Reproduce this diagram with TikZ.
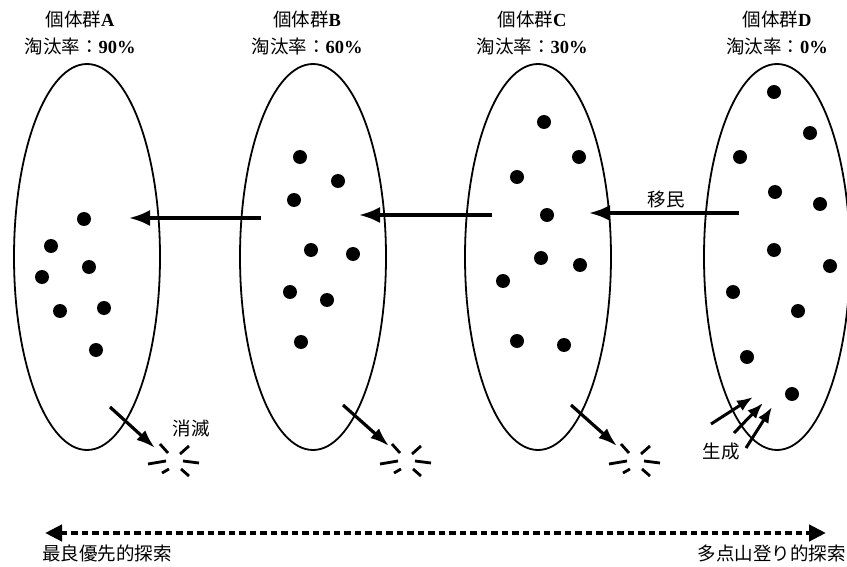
\documentclass[tikz,border=0pt]{standalone}
\usepackage{fontspec}
\setmainfont{Liberation Serif}
\newfontfamily\cjk{Noto Sans CJK JP}
\usetikzlibrary{arrows.meta,shapes.geometric}
\tikzset{
  pop/.style={draw, ellipse, line width=1.8pt, minimum width=146pt, minimum height=386pt, inner sep=0pt},
  dot/.style={circle, fill=black, minimum size=14pt, inner sep=0pt},
  lbl/.style={font=\fontsize{18.5}{22}\selectfont\cjk, inner sep=0pt},
  title/.style={font=\fontsize{18.5}{22}\selectfont, inner sep=0pt},
  migr/.style={line width=3.4pt, -{Latex[length=21pt,width=16pt]}},
  kill/.style={line width=3.2pt, -{Latex[length=19pt,width=13pt]}},
  gen/.style={line width=3pt, -{Latex[length=16pt,width=12pt]}},
  scale line/.style={line width=4.2pt, dash pattern=on 6.5pt off 4pt, {Triangle[length=17pt,width=16pt]}-{Triangle[length=17pt,width=16pt]}},
  burst/.pic={\draw[line width=2.8pt] (-15,-16)--(-7,-7) (5,-6)--(14,-14) (-27,4)--(-9,1) (8,1)--(24,3) (-13,13)--(-6,9) (6,9)--(14,16);}
}
\begin{document}
\begin{tikzpicture}[x=1pt,y=-1pt]
\useasboundingbox (0,0) rectangle (847,567);
\clip (0,0) rectangle (847,567);
% populations
\node[pop] (popA) at (87,257) {};
\node[pop] (popB) at (313,257) {};
\node[pop] (popC) at (538,257) {};
\node[pop] (popD) at (777,257) {};
% titles
\node[title] (tA1) at (80,19) {{\cjk 個体群}\textbf{A}};
\node[title] (tA2) at (80,46) {{\cjk 淘汰率：}\textbf{90\%}};
\node[title] (tB1) at (307,19) {{\cjk 個体群}\textbf{B}};
\node[title] (tB2) at (307,46) {{\cjk 淘汰率：}\textbf{60\%}};
\node[title] (tC1) at (532,19) {{\cjk 個体群}\textbf{C}};
\node[title] (tC2) at (532,46) {{\cjk 淘汰率：}\textbf{30\%}};
\node[title] (tD1) at (777,19) {{\cjk 個体群}\textbf{D}};
\node[title] (tD2) at (777,46) {{\cjk 淘汰率：}\textbf{0\%}};
% dots
\foreach \p [count=\i] in {(84,219),(51,246),(89,267),(42,277),(60,311),(104,308),(96,350)}
  \node[dot] (a\i) at \p {};
\foreach \p [count=\i] in {(300,157),(338,181),(294,200),(311,250),(353,254),(290,292),(327,300),(301,342)}
  \node[dot] (b\i) at \p {};
\foreach \p [count=\i] in {(544,122),(579,157),(517,177),(547,215),(541,258),(580,265),(503,281),(517,341),(564,345)}
  \node[dot] (c\i) at \p {};
\foreach \p [count=\i] in {(774,92),(810,133),(740,157),(775,192),(820,204),(774,250),(830,266),(733,292),(798,311),(747,357),(792,394)}
  \node[dot] (d\i) at \p {};
% migration arrows
\coordinate (mBs) at (261,218); \coordinate (mBe) at (129,218);
\coordinate (mCs) at (492,215); \coordinate (mCe) at (359,215);
\coordinate (mDs) at (739,213); \coordinate (mDe) at (589,213);
\draw[migr] (mBs) -- (mBe);
\draw[migr] (mCs) -- (mCe);
\draw[migr] (mDs) -- (mDe);
\node[lbl] (imin) at (666,199) {移民};
% elimination
\coordinate (kAs) at (110,407); \coordinate (kAe) at (155,448);
\coordinate (kBs) at (343,405); \coordinate (kBe) at (389,446);
\coordinate (kCs) at (571,405); \coordinate (kCe) at (617,446);
\draw[kill] (kAs) -- (kAe);
\draw[kill] (kBs) -- (kBe);
\draw[kill] (kCs) -- (kCe);
\pic (bA) at (175,460) {burst};
\pic (bB) at (407,460) {burst};
\pic (bC) at (636,460) {burst};
\node[lbl] (shometsu) at (191,428) {消滅};
% generation
\coordinate (g1s) at (711,424); \coordinate (g1e) at (753,397);
\coordinate (g2s) at (734,433); \coordinate (g2e) at (763,403);
\coordinate (g3s) at (746,448); \coordinate (g3e) at (772,407);
\draw[gen] (g1s) -- (g1e);
\draw[gen] (g2s) -- (g2e);
\draw[gen] (g3s) -- (g3e);
\node[lbl] (seisei) at (721,452) {生成};
% bottom scale
\coordinate (sL) at (45,533); \coordinate (sR) at (826,533);
\draw[scale line] (sL) -- (sR);
\node[lbl, anchor=west] (left) at (42,553) {最良優先的探索};
\node[lbl, anchor=east] (right) at (846,553) {多点山登り的探索};
\end{tikzpicture}
\end{document}
